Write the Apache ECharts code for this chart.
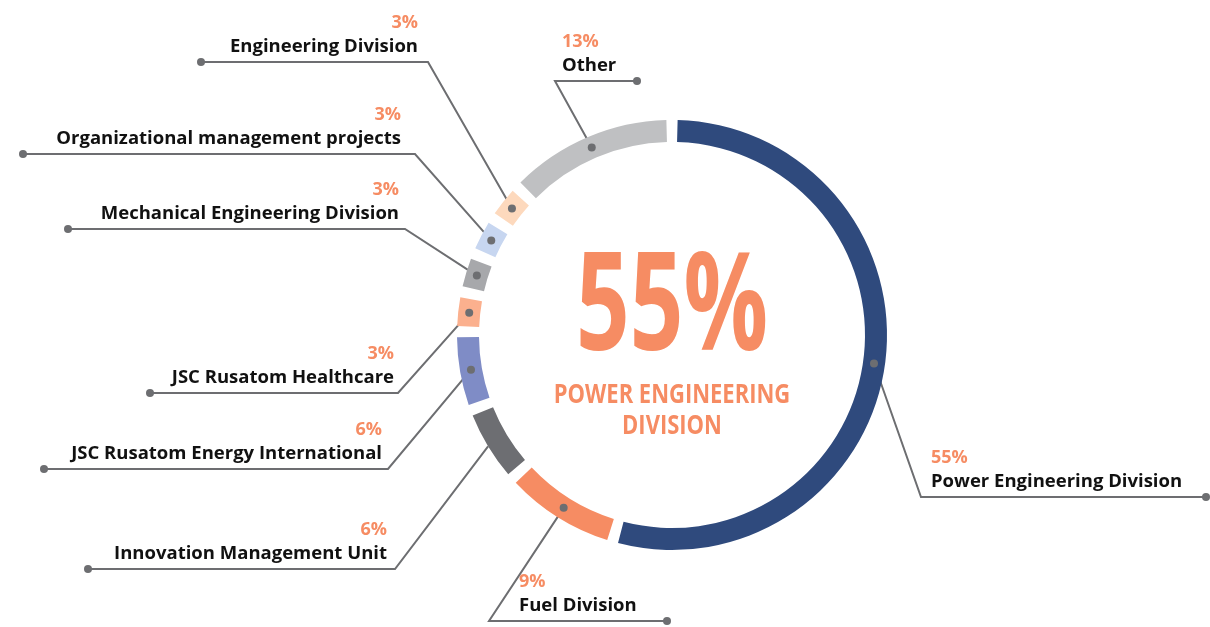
<!DOCTYPE html>
<html>
<head>
<meta charset="utf-8">
<script src="https://cdn.jsdelivr.net/npm/echarts@6/dist/echarts.min.js"></script>
<style>
  html, body { margin: 0; padding: 0; background: #fff; }
  #chart { width: 1210px; height: 627px; }
</style>
</head>
<body>
<div id="chart"></div>
<script>
var categories = [
  'Power Engineering Division',
  'Fuel Division',
  'Innovation Management Unit',
  'JSC Rusatom Energy International',
  'JSC Rusatom Healthcare',
  'Mechanical Engineering Division',
  'Organizational management projects',
  'Engineering Division',
  'Other'
];
var shares = [55, 9, 6, 6, 3, 3, 3, 3, 13];
var sliceColors = ['#2f4a7d', '#f68c63', '#6d6e72', '#7f8cc6', '#fbb08e', '#a7a8ab', '#c7d6f0', '#fdd9bd', '#bfc0c2'];

// callout placement: elbow of the leader, far end of the shelf, text edge, ring dot or not
var callouts = [
  { ex: 921, ey: 497, end: 1206, tx: 931, side: 'right', dot: true },
  { ex: 489, ey: 621, end: 667, tx: 519, side: 'right', dot: true },
  { ex: 395, ey: 569, end: 88, tx: 387, side: 'left', dot: false },
  { ex: 388, ey: 469, end: 44, tx: 382, side: 'left', dot: true },
  { ex: 398, ey: 393, end: 150, tx: 394, side: 'left', dot: true },
  { ex: 405, ey: 229, end: 68, tx: 399, side: 'left', dot: true },
  { ex: 415, ey: 154, end: 23, tx: 401, side: 'left', dot: true },
  { ex: 428, ey: 62, end: 201, tx: 418, side: 'left', dot: true },
  { ex: 555, ey: 81, end: 637, tx: 562, side: 'right', dot: true }
];

var CX = 672, CY = 335, R0 = 193, R1 = 215;
var RM = (R0 + R1) / 2;
var lineColor = '#6d6e71';
var orange = '#f68c63';
var font = "'Open Sans', 'Noto Sans', sans-serif";

var chart = echarts.init(document.getElementById('chart'));

var pieData = categories.map(function (name, i) {
  return { name: name, value: shares[i], itemStyle: { color: sliceColors[i] } };
});

chart.setOption({
  animation: false,
  series: [{
    type: 'pie',
    center: [CX, CY],
    radius: [R0, R1],
    startAngle: 90,
    clockwise: true,
    padAngle: 3,
    silent: true,
    data: pieData,
    label: {
      show: true,
      formatter: function (p) {
        return '{p|' + p.value + '%}\n{n|' + p.name + '}';
      },
      rich: {
        p: { fontFamily: font, fontWeight: 'bold', fontSize: 18, color: orange, lineHeight: 25 },
        n: { fontFamily: font, fontWeight: 'bold', fontSize: 18.5, color: '#111', lineHeight: 24 }
      }
    },
    labelLine: {
      show: true,
      lineStyle: { color: lineColor, width: 2 }
    },
    labelLayout: function (params) {
      var c = callouts[params.dataIndex];
      var p0 = params.labelLinePoints[0];
      var start = p0;
      if (c.dot) {
        var k = RM / R1;
        start = [CX + (p0[0] - CX) * k, CY + (p0[1] - CY) * k];
      }
      return {
        x: c.tx,
        y: c.ey - 3,
        align: c.side === 'right' ? 'left' : 'right',
        verticalAlign: 'bottom',
        labelLinePoints: [start, [c.ex, c.ey], [c.end, c.ey]]
      };
    }
  }]
});

// dots at both ends of each leader, ring end taken from the pie layout
var layoutData = chart.getModel().getSeriesByIndex(0).getData();
var extras = [];
callouts.forEach(function (c, i) {
  var lay = layoutData.getItemLayout(i);
  var mid = (lay.startAngle + lay.endAngle) / 2;
  if (c.dot) {
    extras.push({ type: 'circle', shape: { cx: lay.cx + RM * Math.cos(mid), cy: lay.cy + RM * Math.sin(mid), r: 4 }, style: { fill: lineColor }, z: 100 });
  }
  extras.push({ type: 'circle', shape: { cx: c.end, cy: c.ey, r: 4 }, style: { fill: lineColor }, z: 100 });
});

// centre caption for the largest share
extras.push({
  type: 'text', x: CX, y: 311, scaleX: 0.69, z: 100,
  style: { text: shares[0] + '%', font: 'bold 136px ' + font, fill: orange, align: 'center', verticalAlign: 'middle' }
});
extras.push({
  type: 'text', x: CX, y: 411, scaleX: 0.845, z: 100,
  style: { text: categories[0].toUpperCase().replace(' DIVISION', '\nDIVISION'), font: 'bold 26px ' + font, fill: orange, align: 'center', verticalAlign: 'middle', lineHeight: 31 }
});

chart.setOption({ graphic: extras });
</script>
</body>
</html>
